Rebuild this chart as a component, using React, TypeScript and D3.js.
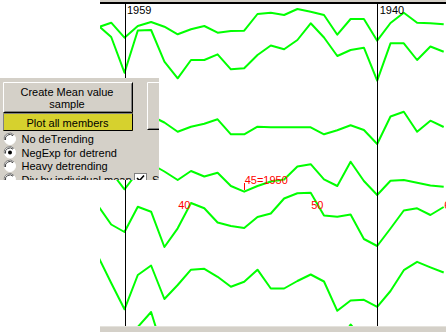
import React from "react";
import * as d3 from "d3";

// Years along the x axis (the program plots them descending left-to-right)
const years = [1961, 1960, 1959, 1958, 1957, 1956, 1955, 1954, 1953, 1952, 1951, 1950, 1949, 1948,
  1947, 1946, 1945, 1944, 1943, 1942, 1941, 1940, 1939, 1938, 1937, 1936, 1935];

// Member series (stacked display units)
const member1 = [30.26, 30.73, 29.23, 30.4, 30.8, 30.33, 29.57, 30.07, 30.4, 29.73, 29.9, 29.93, 31.6, 31.73,
  31.5, 32.1, 31.83, 31.5, 29.53, 31.1, 31.1, 28.93, 30.7, 31.73, 30.73, 30.67, 30.57];
const member2 = [30.48, 29.3, 25.73, 29.95, 30, 26.83, 25.17, 27, 27, 27.57, 26.07, 26.17, 27.5, 28.45,
  28.07, 29, 30.67, 29.25, 27.4, 28, 28.23, 24.93, 28.67, 28.67, 27, 28.35, 27.83];
const member3 = [20.2, 19.5, 19, 20.8, 21.4, 20.75, 19.83, 20.33, 20.63, 21.07, 19.57, 19.57, 20.33, 20.27,
  20.27, 20.27, 20.27, 19.57, 19.97, 20.47, 20, 18.6, 21.35, 21.83, 19.83, 20.93, 20.3];
const member4 = [16.2, 15.8, 14.07, 15.8, 16.6, 15.85, 15, 15.9, 15.35, 15.73, 14.4, 13.83, 14.4, 14.85,
  15.05, 16.35, 16.58, 15.07, 14.4, 16.83, 14.9, 13.5, 14.93, 15, 14.73, 14.45, 14.33];
const member5 = [12.45, 10.55, 9.8, 12.33, 11.83, 8.3, 10.17, 12.7, 12.17, 10.75, 10.4, 10.2, 11.3, 11.65,
  13.15, 13.67, 13.73, 11.45, 11.33, 11.55, 9.1, 8.4, 10.15, 11.95, 12.17, 11.5, 12.3];
const member6 = [7.4, 4.7, 2.07, 5.5, 6.45, 3.1, 4.5, 6.03, 6.12, 5.32, 4.32, 4.82, 6.03, 4.15,
  4.15, 4.9, 5.55, 4.85, 1.92, 2.95, 3.02, 2.32, 3.9, 5.98, 6.82, 6.27, 5.75];
const member7 = [-1.5, -0.8, -1.2, 0.3, 1.8, -2.5, -1, -0.5, -0.8, -1.5, -1, -0.8, -1.2, -0.6,
  -0.4, -1, -1.5, -0.8, -1.5, 0.55, -1, -2, -0.8, -0.5, -1, -0.6, -0.8];
const members = [member1, member2, member3, member4, member5, member6, member7];

// Decade marker years (black vertical lines)
const markerYears = [1959, 1940];

// Red ring-number labels
const ringLabels = ["40", "45=1950", "50", "60"];
const ringLabelYears = [1955, 1950, 1945, 1935];
const ringLabelLevels = [12.1, 14.6, 12.1, 12.1];

// Panel texts
const radioLabels = ["No deTrending", "NegExp for detrend", "Heavy detrending", "Div by individual mean"];
const radioSelected = 1;

const W = 446;
const H = 332;
const GRAY = "#d4d0c8";
const FONT = "'Liberation Sans', Arial, sans-serif";

export default function App() {
  const x = d3.scaleLinear().domain([1959, 1940]).range([124.5, 377.2]);
  const y = d3.scaleLinear().domain([0, 33]).range([330, 0]);
  const line = d3
    .line<number>()
    .x((_, i) => x(years[i]))
    .y((d) => y(d));

  const plotLeft = 100;
  const plotTop = 4;
  const plotBottom = 326;

  const panel = { x: 0, y: 78, w: 159, h: 102 };
  const radioY0 = 139;
  const radioStep = 13.5;

  return (
    <svg
      width={W}
      height={H}
      style={{ position: "absolute", left: 0, top: 0, background: "#fff" }}
      fontFamily={FONT}
    >
      <defs>
        <clipPath id="plotClip">
          <rect x={plotLeft} y={plotTop} width={W - plotLeft} height={plotBottom - plotTop} />
        </clipPath>
        <clipPath id="panelClip">
          <rect x={panel.x} y={panel.y} width={panel.w} height={panel.h} />
        </clipPath>
      </defs>
      <rect x={0} y={0} width={W} height={H} fill="#fff" />

      {/* top frame */}
      <rect x={plotLeft} y={0} width={W - plotLeft} height={2} fill={GRAY} />
      <rect x={plotLeft} y={2} width={W - plotLeft} height={2} fill="#000" />

      <g clipPath="url(#plotClip)">
        {members.map((m, i) => (
          <path
            key={i}
            d={line(m) || ""}
            fill="none"
            stroke="#00ff00"
            strokeWidth={2}
            strokeLinejoin="round"
          />
        ))}
        {markerYears.map((yr) => {
          const px = Math.round(x(yr)) + 0.5;
          return <line key={yr} x1={px} x2={px} y1={plotTop} y2={plotBottom} stroke="#000" strokeWidth={1} />;
        })}
        {ringLabels.map((t, i) => (
          <text
            key={t}
            x={x(ringLabelYears[i]) + 0.5}
            y={y(ringLabelLevels[i])}
            fill="#ff0000"
            fontSize={11}
          >
            {t}
          </text>
        ))}
        <line
          x1={Math.round(x(1950)) + 0.5}
          x2={Math.round(x(1950)) + 0.5}
          y1={y(14.6) - 1}
          y2={y(14.6) + 6}
          stroke="#ff0000"
          strokeWidth={1}
        />
      </g>
      {markerYears.map((yr) => (
        <text key={yr} x={x(yr) + 2.5} y={14} fontSize={11} fill="#000">
          {yr}
        </text>
      ))}

      {/* left control panel */}
      <g clipPath="url(#panelClip)">
        <rect x={panel.x} y={panel.y} width={panel.w} height={panel.h} fill={GRAY} />
        {/* Create Mean value button */}
        <rect x={3} y={82} width={130} height={31} fill={GRAY} />
        <path d="M3.5,112.5 V82.5 H132.5" fill="none" stroke="#fff" />
        <path d="M4.5,111.5 H131.5 V83.5" fill="none" stroke="#808080" />
        <path d="M3.5,112.5 H132.5 V82.5" fill="none" stroke="#000" />
        <text x={67} y={96} fontSize={11} textAnchor="middle" fill="#000">Create Mean value</text>
        <text x={67} y={107.5} fontSize={11} textAnchor="middle" fill="#000">sample</text>
        {/* Plot all members (yellow) */}
        <rect x={3} y={113} width={130} height={18} fill="#d6d12e" />
        <path d="M3.5,130.5 V113.5 H132.5" fill="none" stroke="#808080" />
        <path d="M3.5,130.5 H132.5 V113.5" fill="none" stroke="#000" />
        <text x={67.5} y={126.5} fontSize={11} textAnchor="middle" fill="#000">Plot all members</text>
        {/* second (cut-off) button */}
        <rect x={147} y={82} width={30} height={48} fill={GRAY} />
        <path d="M147.5,129.5 V82.5 H176" fill="none" stroke="#fff" />
        <path d="M147.5,129.5 H176" fill="none" stroke="#000" />
        <path d="M148.5,128.5 H176" fill="none" stroke="#808080" />
        {/* radio buttons */}
        {radioLabels.map((t, i) => {
          const cy = radioY0 + i * radioStep;
          return (
            <g key={t}>
              <circle cx={10} cy={cy} r={5.5} fill="#fff" stroke="#fff" />
              <path
                d={`M${10 - 5.5},${cy + 1} A5.5,5.5 0 0 1 ${10 + 4},${cy - 4}`}
                fill="none"
                stroke="#808080"
              />
              <path
                d={`M${10 - 4.5},${cy + 1} A4.5,4.5 0 0 1 ${10 + 3},${cy - 3.3}`}
                fill="none"
                stroke="#404040"
              />
              {i === radioSelected && <circle cx={10} cy={cy} r={2} fill="#000" />}
              <text x={21.5} y={cy + 4} fontSize={11} fill="#000">{t}</text>
            </g>
          );
        })}
        {/* checkbox */}
        <rect x={134.5} y={173.5} width={12} height={12} fill="#fff" stroke="#808080" />
        <path d="M137,178 L139.5,180.5 L144,175.5" fill="none" stroke="#000" strokeWidth={1.6} />
        <text x={152} y={183.5} fontSize={11} fill="#000">S</text>
      </g>

      {/* bottom scroll bar strip */}
      <rect x={plotLeft} y={plotBottom} width={W - plotLeft} height={H - plotBottom} fill={GRAY} />
      <line x1={plotLeft} x2={W} y1={plotBottom + 0.5} y2={plotBottom + 0.5} stroke="#e4e2dc" />
    </svg>
  );
}
